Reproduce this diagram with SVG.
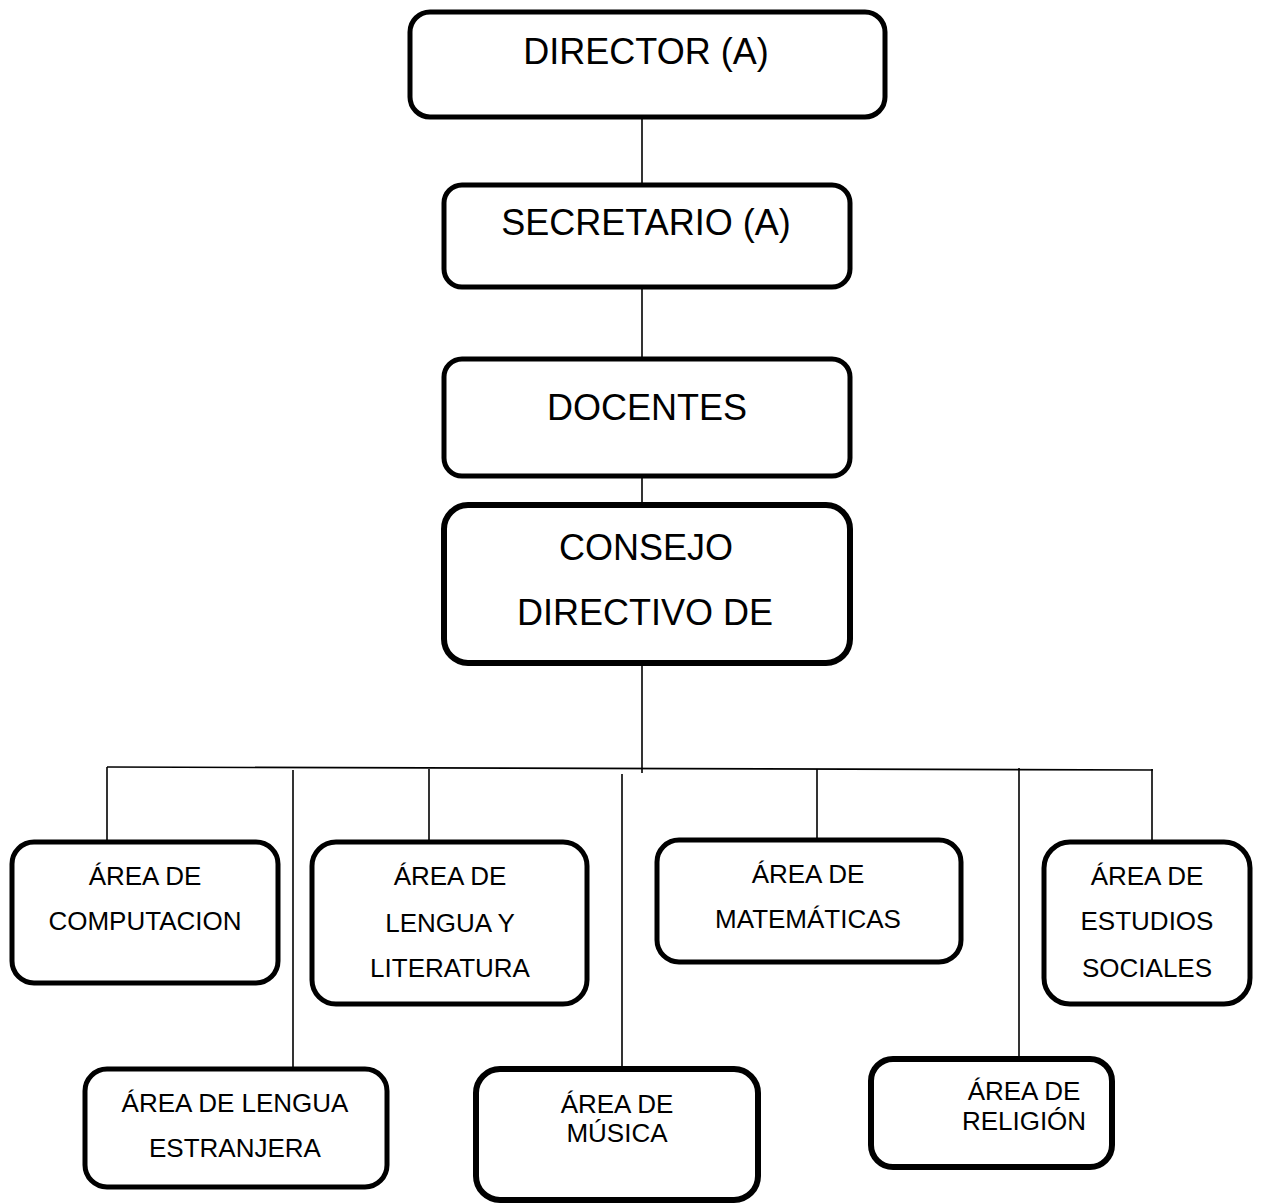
<svg xmlns="http://www.w3.org/2000/svg" width="1262" height="1203" viewBox="0 0 1262 1203">
<style>
  .box { fill: #ffffff; stroke: #000000; stroke-width: 5; }
  .thick { stroke-width: 6; }
  .big { font-family: "Liberation Sans", Arial, sans-serif; font-size: 36px; fill: #000; text-anchor: middle; }
  .sm { font-family: "Liberation Sans", Arial, sans-serif; font-size: 26px; fill: #000; text-anchor: middle; }
  .conn { stroke: #000; stroke-width: 1.6; fill: none; }
</style>
<rect width="1262" height="1203" fill="#ffffff"/>
<g id="connectors">
  <line class="conn" x1="642" y1="118" x2="642" y2="185"/>
  <line class="conn" x1="642" y1="287" x2="642" y2="359"/>
  <line class="conn" x1="642" y1="476" x2="642" y2="505"/>
  <line class="conn" x1="642" y1="662" x2="642" y2="773"/>
  <line class="conn" x1="107" y1="767" x2="1153" y2="770"/>
  <line class="conn" x1="107" y1="767" x2="107" y2="842"/>
  <line class="conn" x1="293" y1="770" x2="293" y2="1069"/>
  <line class="conn" x1="429" y1="769" x2="429" y2="842"/>
  <line class="conn" x1="622" y1="774" x2="622" y2="1069"/>
  <line class="conn" x1="817" y1="769" x2="817" y2="840"/>
  <line class="conn" x1="1019" y1="768" x2="1019" y2="1059"/>
  <line class="conn" x1="1152" y1="769" x2="1152" y2="842"/>
</g>
<g id="director">
  <rect class="box" x="410" y="12" width="475" height="105" rx="20"/>
  <text class="big" x="646" y="64">DIRECTOR (A)</text>
</g>
<g id="secretario">
  <rect class="box" x="444" y="185" width="406" height="102" rx="18"/>
  <text class="big" x="646" y="235">SECRETARIO (A)</text>
</g>
<g id="docentes">
  <rect class="box" x="444" y="359" width="406" height="117" rx="18"/>
  <text class="big" x="647" y="420">DOCENTES</text>
</g>
<g id="consejo">
  <rect class="box thick" x="444" y="505" width="406" height="158" rx="24"/>
  <text class="big" x="646" y="560">CONSEJO</text>
  <text class="big" x="645" y="625">DIRECTIVO DE</text>
</g>
<g id="computacion">
  <rect class="box" x="12" y="842" width="266" height="141" rx="22"/>
  <text class="sm" x="145" y="885">ÁREA DE</text>
  <text class="sm" x="145" y="930">COMPUTACION</text>
</g>
<g id="lengua-literatura">
  <rect class="box" x="312" y="842" width="275" height="162" rx="24"/>
  <text class="sm" x="450" y="885">ÁREA DE</text>
  <text class="sm" x="450" y="932">LENGUA Y</text>
  <text class="sm" x="450" y="977">LITERATURA</text>
</g>
<g id="matematicas">
  <rect class="box" x="657" y="840" width="304" height="122" rx="22"/>
  <text class="sm" x="808" y="883">ÁREA DE</text>
  <text class="sm" x="808" y="928">MATEMÁTICAS</text>
</g>
<g id="estudios-sociales">
  <rect class="box" x="1044" y="842" width="206" height="162" rx="26"/>
  <text class="sm" x="1147" y="885">ÁREA DE</text>
  <text class="sm" x="1147" y="930">ESTUDIOS</text>
  <text class="sm" x="1147" y="977">SOCIALES</text>
</g>
<g id="lengua-estranjera">
  <rect class="box" x="85" y="1069" width="302" height="118" rx="22"/>
  <text class="sm" x="235" y="1112">ÁREA DE LENGUA</text>
  <text class="sm" x="235" y="1157">ESTRANJERA</text>
</g>
<g id="musica">
  <rect class="box thick" x="476" y="1069" width="282" height="131" rx="24"/>
  <text class="sm" x="617" y="1113">ÁREA DE</text>
  <text class="sm" x="617" y="1142">MÚSICA</text>
</g>
<g id="religion">
  <rect class="box thick" x="871" y="1059" width="241" height="108" rx="22"/>
  <text class="sm" x="1024" y="1100">ÁREA DE</text>
  <text class="sm" x="1024" y="1130">RELIGIÓN</text>
</g>
</svg>
